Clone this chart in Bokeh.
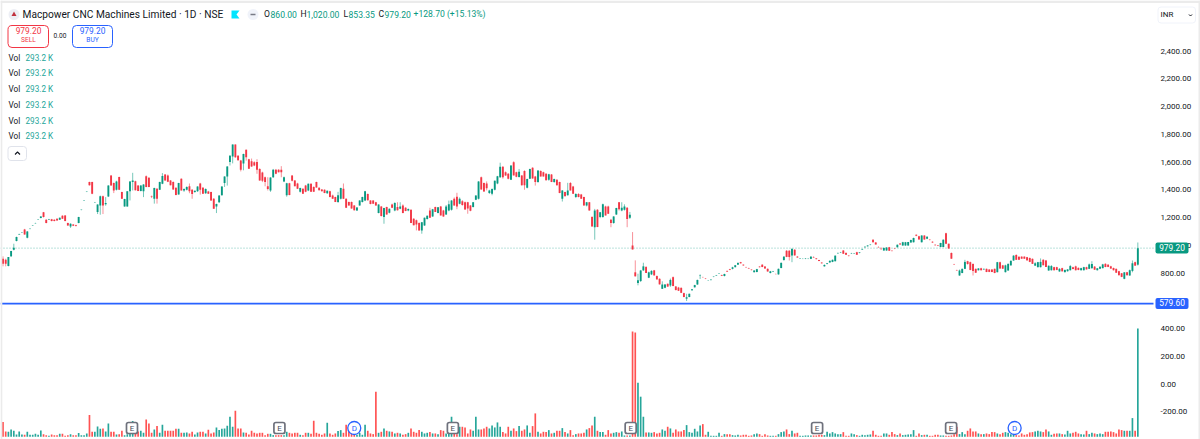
from bokeh.plotting import figure
from bokeh.models import (Range1d, ColumnDataSource, Label, BoxAnnotation,
                          FixedTicker, NumeralTickFormatter)
from bokeh.core.properties import value
from bokeh.embed import file_html
from bokeh.resources import INLINE

opens = [
903,896,850,920,968,1030,1078,1091,1114,1054,
1117,1141,1158,1184,1196,1237,1184,1184,1188,
1184,1191,1184,1213,1215,1160,1135,1150,1145,1160,
1254,1322,1385,1455,1455,1308,1239,1287,1354,1295,1352,
1503,1448,1400,1491,1383,1280,1280,1390,1455,1462,
1430,1391,1390,1498,1486,1354,1335,1408,1400,1443,
1510,1503,1467,1455,1414,1366,1479,1395,1400,1425,
1400,1383,1390,1445,1415,1375,1388,1383,1335,1280,
1310,1360,1448,1495,1600,1640,1726,1645,1610,1590,
1688,1620,1606,1599,1600,1550,1525,1490,1425,1395,
1490,1545,1545,1545,1460,1360,1447,1503,1467,1445,
1385,1407,1430,1395,1443,1420,1455,1415,1402,1400,
1375,1390,1359,1347,1312,1335,1407,1335,1311,1311,
1287,1250,1287,1311,1323,1370,1322,1322,1310,1232,
1280,1203,1275,1235,1294,1250,1275,1263,1287,1270,
1250,1255,1191,1180,1160,1107,1143,1190,1250,1208,
1275,1232,1280,1250,1222,1250,1256,1335,1350,1300,
1318,1310,1310,1287,1275,1328,1335,1490,1448,1445,
1376,1372,1400,1445,1490,1566,1527,1515,1472,1599,
1527,1491,1503,1535,1415,1480,1558,1495,1455,1535,
1527,1515,1472,1510,1455,1472,1455,1335,1383,1360,
1448,1424,1347,1370,1365,1347,1287,1310,1203,1130,
1256,1203,1203,1280,1280,1184,1160,1222,1310,1250,
1256,1270,1198,999,805,728,742,819,843,766,
790,819,778,758,686,693,722,710,770,703,
695,693,655,615,627,675,697,717,780,770,
760,746,749,773,782,796,785,778,815,827,
830,842,860,878,860,842,835,824,806,807,
846,860,846,830,800,810,793,790,836,893,
960,960,927,967,918,903,903,903,903,902,
915,905,893,875,848,865,876,880,885,942,
947,962,945,925,940,940,950,945,970,985,
992,1003,1040,1020,988,975,963,962,985,960,
977,985,1012,998,998,998,1020,1022,1075,1065,
1022,1070,1046,1040,1025,1003,998,987,987,1087,
1010,945,862,820,782,800,830,885,878,865,
830,820,834,826,830,825,825,830,806,878,
855,806,818,855,890,930,918,918,918,914,
908,902,853,842,842,895,890,818,820,842,
842,811,835,806,813,820,842,848,837,820,
820,842,830,835,846,820,830,835,866,860,
848,836,830,813,798,758,806,782,815,878,860]
highs = [
920,903,915,960,1011,1062,1083,1095,1118,1103,
1121,1145,1162,1188,1210,1240,1187,1190,1190,
1187,1194,1200,1216,1218,1163,1158,1153,1148,1205,
1258,1326,1389,1458,1458,1312,1295,1358,1358,1347,1432,
1505,1452,1465,1494,1386,1335,1390,1462,1522,1465,
1433,1433,1440,1503,1490,1358,1415,1412,1458,1520,
1513,1510,1470,1460,1417,1450,1482,1410,1425,1445,
1405,1395,1425,1450,1420,1410,1392,1386,1340,1300,
1360,1425,1497,1570,1650,1727,1727,1650,1615,1660,
1690,1623,1625,1605,1620,1555,1530,1495,1490,1490,
1550,1550,1548,1570,1495,1450,1450,1505,1470,1450,
1415,1410,1435,1445,1446,1425,1458,1418,1405,1403,
1395,1393,1365,1350,1385,1415,1445,1338,1315,1315,
1290,1275,1325,1350,1392,1373,1325,1325,1313,1295,
1283,1270,1278,1265,1300,1310,1310,1310,1295,1275,
1265,1258,1195,1185,1165,1168,1200,1215,1270,1262,
1278,1275,1283,1255,1290,1322,1325,1345,1378,1345,
1325,1315,1313,1290,1312,1360,1462,1495,1452,1460,
1400,1410,1467,1500,1595,1570,1532,1520,1576,1605,
1530,1550,1506,1540,1480,1552,1562,1500,1540,1540,
1530,1520,1515,1513,1480,1476,1458,1398,1386,1450,
1455,1428,1375,1375,1370,1350,1312,1312,1210,1262,
1260,1240,1300,1285,1285,1190,1210,1270,1312,1310,
1295,1275,1240,1095,891,795,822,874,850,810,
820,822,782,762,740,720,725,760,775,706,
700,696,658,650,652,685,715,752,790,773,
763,749,755,776,786,800,788,795,818,830,
845,858,875,880,862,845,838,827,820,830,
849,863,849,833,815,815,796,832,876,920,
965,965,975,972,922,907,907,908,906,920,
920,908,895,878,862,872,890,897,927,948,
952,965,950,928,945,944,953,950,975,992,
1000,1008,1043,1023,992,985,985,985,988,963,
980,1005,1015,1025,1024,1024,1040,1055,1078,1068,
1072,1072,1065,1044,1028,1006,1000,1018,1043,1090,
1012,948,866,824,825,832,895,888,882,870,
832,835,838,832,832,828,828,832,880,882,
858,860,868,890,928,935,920,920,920,916,
912,905,878,880,905,900,894,855,857,845,
845,835,838,825,828,858,845,853,840,838,
845,845,868,885,850,836,848,866,870,863,
852,839,832,816,800,805,808,825,890,882,1020]
lows = [
848,848,848,915,963,1028,1076,1089,1076,1050,
1115,1139,1156,1182,1194,1200,1158,1182,1172,
1172,1178,1182,1190,1172,1140,1125,1138,1135,1158,
1252,1320,1383,1430,1368,1306,1225,1220,1225,1285,1348,
1430,1376,1395,1398,1333,1278,1278,1323,1395,1395,
1390,1388,1347,1418,1418,1340,1300,1300,1398,1440,
1465,1455,1432,1400,1360,1365,1395,1385,1395,1375,
1335,1378,1385,1365,1370,1370,1370,1320,1262,1232,
1305,1358,1420,1430,1575,1590,1630,1610,1532,1540,
1610,1550,1565,1570,1515,1465,1455,1425,1395,1385,
1485,1512,1525,1490,1455,1350,1360,1460,1425,1405,
1380,1370,1382,1390,1385,1385,1415,1395,1388,1375,
1370,1345,1335,1311,1305,1330,1333,1268,1285,1263,
1250,1248,1285,1308,1318,1322,1295,1300,1285,1230,
1207,1155,1220,1230,1268,1245,1250,1260,1230,1245,
1245,1160,1143,1107,1105,1083,1140,1185,1197,1205,
1240,1230,1215,1205,1218,1245,1250,1285,1260,1295,
1285,1255,1227,1245,1272,1325,1330,1400,1385,1395,
1370,1360,1395,1440,1485,1480,1500,1475,1470,1505,
1490,1488,1430,1400,1410,1478,1480,1430,1450,1495,
1495,1467,1465,1455,1450,1430,1375,1315,1353,1358,
1395,1370,1340,1345,1335,1286,1280,1250,1135,1040,
1130,1195,1198,1215,1225,1130,1155,1218,1250,1245,
1250,1130,1190,970,775,711,735,815,800,763,
785,780,752,717,685,690,700,700,705,675,
670,655,625,598,625,672,695,715,757,767,
756,744,747,770,780,794,778,776,808,820,
826,840,858,868,852,838,830,819,803,805,
840,842,830,810,797,807,790,788,834,890,
914,890,878,925,910,901,900,900,900,900,
910,898,885,868,846,862,874,878,883,938,
944,938,930,920,937,937,930,942,967,982,
990,1000,1020,1005,983,970,960,960,960,955,
972,983,1005,996,996,996,1018,1020,1065,1040,
1020,1040,1044,1035,1018,998,994,985,985,1008,
975,902,858,815,780,798,828,860,820,782,
800,818,818,822,806,806,806,798,804,830,
830,804,816,853,888,895,895,902,902,890,
878,865,850,840,840,855,843,816,818,818,
820,809,811,804,810,818,826,818,820,818,
818,825,828,830,822,818,828,833,842,842,
830,818,800,782,770,755,782,780,805,852,853.35]
closes = [
867,867,915,958,982,1059,1081,1093,1078,1100,
1119,1143,1160,1186,1208,1203,1160,1188,1174,
1174,1179,1198,1191,1174,1143,1155,1141,1138,1203,
1256,1324,1387,1432,1371,1310,1294,1354,1287,1304,1431,
1431,1395,1460,1400,1335,1333,1390,1460,1467,1397,
1391,1430,1438,1419,1420,1350,1413,1335,1455,1500,
1467,1457,1433,1402,1362,1448,1395,1405,1420,1390,
1370,1393,1423,1400,1372,1405,1372,1323,1263,1298,
1358,1423,1495,1568,1645,1726,1635,1612,1545,1658,
1635,1552,1567,1575,1545,1467,1465,1455,1405,1488,
1545,1515,1527,1527,1490,1447,1362,1464,1425,1407,
1412,1372,1385,1443,1385,1386,1417,1397,1390,1377,
1393,1348,1335,1312,1360,1413,1335,1270,1287,1265,
1252,1272,1323,1347,1390,1325,1297,1300,1287,1293,
1210,1268,1222,1263,1270,1305,1252,1280,1232,1247,
1262,1160,1145,1150,1107,1165,1198,1213,1198,1260,
1240,1273,1215,1208,1280,1295,1322,1287,1280,1335,
1290,1258,1265,1248,1310,1358,1460,1402,1388,1410,
1395,1405,1465,1498,1565,1490,1503,1479,1575,1503,
1493,1530,1432,1432,1478,1550,1481,1455,1538,1496,
1496,1468,1512,1456,1478,1432,1376,1395,1354,1395,
1395,1372,1370,1347,1336,1287,1310,1251,1136,1250,
1131,1238,1295,1215,1227,1160,1207,1268,1260,1270,
1280,1190,1220,970,776,747,818,848,800,805,
815,783,754,718,717,717,702,750,706,677,
672,657,627,625,650,682,713,750,783,769,
758,747,752,775,785,798,780,793,810,822,
841,856,873,870,855,840,832,821,818,828,
842,843,832,811,812,813,792,830,873,918,
916,915,974,927,912,905,903,905,904,918,
912,900,887,870,858,870,888,895,925,945,
950,939,932,922,943,942,931,948,973,990,
998,1005,1022,1006,985,972,980,983,961,958,
975,1003,1006,1022,1022,1023,1038,1053,1068,1041,
1070,1041,1062,1037,1020,1000,995,1016,1040,1010,
976,903,860,818,818,830,880,865,822,815,
802,833,820,830,807,808,807,800,878,832,
831,855,866,888,925,895,896,903,903,891,
880,866,870,878,880,856,844,852,850,820,
822,830,812,822,826,850,828,820,822,835,
842,826,862,865,824,834,845,862,843,844,
832,820,802,784,772,805,783,820,870,853,979.2]
volumes = [
44,16,15,22,18,7,16,7,6,15,
6,6,9,6,19,8,5,3,7,5,
5,9,9,3,5,8,5,5,11,5,
5,10,65,15,15,31,24,25,16,40,
15,15,7,8,18,5,8,10,47,20,
16,18,12,52,40,12,22,32,12,36,
18,18,18,18,24,24,12,12,13,10,
15,7,13,15,15,10,21,10,13,28,
20,24,25,33,60,30,78,25,25,13,
12,7,18,12,10,12,12,5,9,9,
5,5,5,5,5,15,12,10,12,12,
6,5,12,12,9,48,12,9,6,10,
42,10,6,10,17,20,12,36,18,12,
10,6,12,6,36,18,10,8,135,12,
15,25,18,16,15,10,12,10,6,8,
12,25,15,12,20,15,10,12,14,10,
10,8,20,18,10,10,60,10,8,30,
30,28,10,22,18,60,22,22,25,30,
25,34,28,43,30,14,10,30,18,25,
17,32,18,22,34,12,32,70,15,10,
15,14,20,10,12,18,18,26,14,10,
20,5,8,10,10,12,22,26,34,60,
18,14,14,6,20,10,12,14,12,16,
4,4,4,315,312,162,120,60,13,13,
12,14,10,12,22,18,30,25,12,22,
16,16,20,35,14,12,24,16,34,38,
6,15,3,3,3,12,3,8,8,8,
5,4,6,4,6,6,3,4,8,10,
8,3,8,4,3,3,3,8,14,16,
22,8,18,10,12,3,3,4,4,4,
4,4,6,6,5,15,10,14,10,8,
8,14,3,3,10,8,5,3,6,5,
6,7,18,6,3,3,10,10,6,14,
8,5,10,5,6,7,8,20,3,10,
5,6,6,3,3,6,6,4,4,3,
3,4,8,30,8,14,8,18,25,16,
16,10,8,8,10,8,14,14,10,8,
12,14,12,8,8,5,4,10,6,8,
13,14,16,18,16,14,22,16,6,9,
10,10,8,7,18,10,12,15,10,8,
7,18,8,12,10,8,10,8,15,15,
16,14,10,22,20,18,18,18,56,18,324]
price_ticks = [-200, 0, 200, 400, 600, 800, 1000, 1200, 1400, 1600, 1800, 2000, 2200, 2400]
earnings_bars = [47.74, 102.3, 166.5, 232.3, 301.3, 350.9]
dividend_bars = [130.0, 374.4]
last_price = 979.20
support_price = 579.60
vol_rows = ["293.2 K"] * 6
row_ys = [58, 73, 89, 105, 121, 136]

n = len(opens)
assert {len(highs), len(lows), len(closes), len(volumes)} == {n}, (n, len(highs), len(lows), len(closes), len(volumes))

UP, DOWN = "#089981", "#F23645"
VUP, VDOWN = "#26A69A", "#FF5252"
TEXT = "#131722"
BLUE = "#2962FF"

def X(px):
    return (px - 2.5) / 2.702

def Y(py):
    return 800 + (272.5 - py) / 0.13875

p = figure(width=1200, height=439, frame_width=1200, frame_height=439,
           output_backend="svg", toolbar_location=None, x_axis_location=None,
           y_axis_location="right", x_range=Range1d(X(0), X(1200)), y_range=Range1d(Y(439), Y(0)),
           min_border=0, min_border_left=0, min_border_right=0, min_border_top=0, min_border_bottom=0,
           outline_line_color=None, background_fill_color="white", border_fill_color="white")
p.grid.visible = False
ax = p.yaxis[0]
ax.ticker = FixedTicker(ticks=price_ticks)
ax.formatter = NumeralTickFormatter(format="0,0.00")
ax.axis_line_color = None
ax.major_tick_line_color = None
ax.minor_tick_line_color = None
ax.major_label_text_font = "Roboto"
ax.major_label_text_font_size = "8px"
ax.major_label_text_color = TEXT
ax.major_label_standoff = -46

idx = list(range(n))
up = [c >= o for o, c in zip(opens, closes)]
base = Y(436.3)
vol_scale = (400 - base) / max(volumes)
src = ColumnDataSource(dict(
    x=idx, o=opens, h=highs, l=lows, c=closes,
    top_b=[max(a, b) for a, b in zip(opens, closes)],
    bot_b=[min(a, b) for a, b in zip(opens, closes)],
    col=[UP if u else DOWN for u in up],
    vcol=[VUP if u else VDOWN for u in up],
    vtop=[base + v * vol_scale for v in volumes],
    vbot=[base] * n,
))

dotted = p.segment(x0=[X(0)], x1=[X(1153)], y0=[last_price], y1=[last_price], line_color=UP,
                   line_alpha=0.55, line_width=1)
dotted.glyph.line_dash = [1, 2]
p.segment(x0=[X(0)], x1=[X(1153)], y0=[support_price], y1=[support_price], line_color=BLUE, line_width=1.6)

p.vbar(x="x", top="vtop", bottom="vbot", width=0.62, fill_color="vcol", line_color=None, source=src)
p.segment(x0="x", y0="l", x1="x", y1="h", line_color="col", line_alpha=0.55, line_width=1, source=src)
p.vbar(x="x", top="top_b", bottom="bot_b", width=0.7, fill_color="col", line_color=None, source=src)

def txt(px, py, s, color=TEXT, size=8.4, align="left", weight="normal"):
    p.add_layout(Label(x=X(px), y=Y(py - 0.7), text=s, text_color=color, text_font="Roboto",
                       text_font_size=f"{size}px", text_align=align, text_baseline="middle",
                       text_font_style=weight, level="overlay"))

def box(l, t, r, b, fill="white", line=None, radius=0, lw=1):
    p.add_layout(BoxAnnotation(left=X(l), right=X(r), top=Y(t), bottom=Y(b), fill_color=fill,
                               fill_alpha=1, line_color=line, line_width=lw, line_alpha=1,
                               border_radius=radius))

# window edges
box(0, 0, 1200, 2.5, fill="#EBEBEB")
box(0, 0, 1.8, 439, fill="#EBEBEB")
box(1198, 0, 1200, 439, fill="#EBEBEB")

# event markers
mark_y = 427.5
p.rect(x=earnings_bars, y=[Y(mark_y)] * len(earnings_bars), width=11, height=11,
       width_units="screen", height_units="screen", fill_color="white", line_color="#6E717C",
       line_width=1.7, border_radius=2)
p.text(x=earnings_bars, y=[Y(mark_y)] * len(earnings_bars), text=["E"] * len(earnings_bars),
       text_font=value("Roboto"), text_font_size="8px", text_color="#4A4E59", text_align="center", text_baseline="middle")
p.scatter(x=dividend_bars, y=[Y(mark_y)] * len(dividend_bars), size=13, marker="circle",
          fill_color="white", line_color=BLUE, line_width=1.3)
p.text(x=dividend_bars, y=[Y(mark_y)] * len(dividend_bars), text=["D"] * len(dividend_bars),
       text_font=value("Roboto"), text_font_size="8px", text_color=BLUE, text_align="center", text_baseline="middle")

# header
p.scatter(x=[X(13.5)], y=[Y(14)], size=11, marker="circle", fill_color="#EDEFF5", line_color=None)
p.scatter(x=[X(13.5)], y=[Y(14)], size=5, marker="triangle", fill_color="#C0323F", line_color=None)
txt(22, 14.5, "Macpower CNC Machines Limited · 1D · NSE", size=10.2)
p.patch(x=[X(231), X(239), X(236), X(239), X(231)], y=[Y(10), Y(10), Y(14), Y(18), Y(18)],
        fill_color="#00E5FF", line_color=None)
p.scatter(x=[X(252.5)], y=[Y(14)], size=11, marker="circle", fill_color="#F0F3FA", line_color=None)
p.line(x=[X(250), X(255)], y=[Y(14), Y(14)], line_color="#787B86", line_width=1.5)
for px, s, c in [(263.5, "O", TEXT), (270, "860.00", UP), (300, "H", TEXT), (306, "1,020.00", UP),
                 (343, "L", TEXT), (348, "853.35", UP), (378, "C", TEXT), (384, "979.20", UP),
                 (413, "+128.70 (+15.13%)", UP)]:
    txt(px, 14.5, s, color=c, size=8.6)

box(7.5, 25, 48, 47, line=DOWN, radius=4)
txt(28, 31, "979.20", color=DOWN, size=8.4, align="center")
txt(28, 40.5, "SELL", color=DOWN, size=6.6, align="center")
txt(53, 35.5, "0.00", size=6.6)
box(72, 25, 112, 47, line=BLUE, radius=4)
txt(92, 31, "979.20", color=BLUE, size=8.4, align="center")
txt(92, 40.5, "BUY", color=BLUE, size=6.6, align="center")

for ry, val in zip(row_ys, vol_rows):
    txt(8, ry, "Vol", size=8.2)
    txt(25, ry, val, color=VUP, size=8.2)

box(7.5, 146, 26, 160, line="#E0E3EB", radius=3)
p.line(x=[X(14.5), X(17), X(19.5)], y=[Y(154), Y(151.5), Y(154)], line_color=TEXT, line_width=1.1, level="overlay")

# scale labels
box(1157.5, 6.5, 1195, 22.5, line="#F0F3FA", radius=3)
txt(1160, 14.5, "INR", size=8)
p.line(x=[X(1188.5), X(1190), X(1191.5)], y=[Y(14), Y(15.5), Y(14)], line_color=TEXT, line_width=1, level="overlay")
box(1155, 242, 1188, 253, fill=UP, radius=2)
txt(1171.5, 247.7, "979.20", color="white", size=8.4, align="center")
box(1155, 297.5, 1188, 308.5, fill=BLUE, radius=2)
txt(1171.5, 303, "579.60", color="white", size=8.4, align="center")

open("out.html", "w").write(file_html(p, INLINE))
